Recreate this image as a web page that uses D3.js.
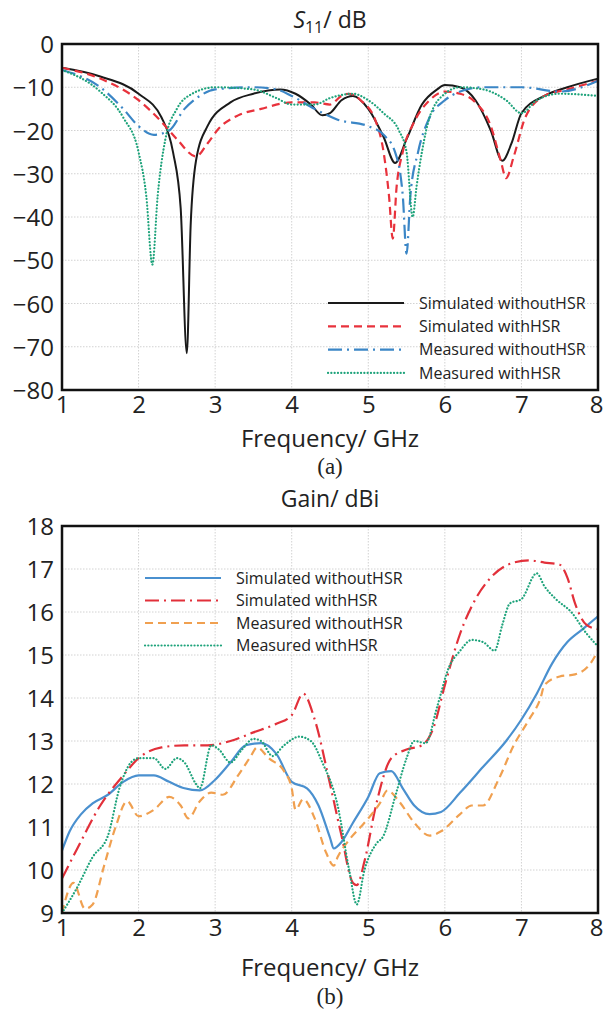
<!DOCTYPE html>
<html>
<head>
<meta charset="utf-8">
<script src="https://cdn.jsdelivr.net/npm/d3@7"></script>
<style>
  body { margin: 0; background: #fff; }
  svg { display: block; }
  text { font-family: "Open Sans", "Noto Sans", sans-serif; fill: #222; }
</style>
</head>
<body>
<div id="chart"></div>
<script>
// ---- data: S11 (dB) vs frequency (GHz)
var s11SimWithout = [[1,-5.5],[1.5,-7.5],[2.0,-11.5],[2.3,-17],[2.45,-25],[2.55,-38],[2.63,-71.5],[2.68,-42],[2.75,-27],[2.9,-19],[3.2,-13.5],[3.5,-11.5],[3.85,-10.5],[4.05,-11.5],[4.25,-14],[4.4,-16.5],[4.5,-16],[4.65,-13],[4.8,-12],[5.0,-15],[5.2,-21.5],[5.35,-27.5],[5.5,-22],[5.7,-14],[5.9,-10.5],[6.0,-9.5],[6.2,-10],[6.4,-13],[6.6,-20],[6.75,-27],[6.87,-23],[7.0,-16],[7.3,-12],[7.6,-10],[8.0,-8]];
var s11SimWith = [[1,-5.5],[1.5,-8],[2.0,-13],[2.3,-18],[2.5,-22],[2.75,-26],[2.9,-23],[3.05,-19.5],[3.3,-16.5],[3.6,-15],[4.0,-13.5],[4.3,-13.5],[4.5,-14],[4.65,-12],[4.75,-11.5],[4.9,-13],[5.1,-18],[5.2,-25],[5.27,-35],[5.32,-45],[5.37,-33],[5.45,-25],[5.6,-18],[5.8,-13],[6.0,-11],[6.2,-11.5],[6.4,-13.5],[6.6,-19],[6.73,-27],[6.8,-31],[6.9,-26],[7.05,-17],[7.3,-12],[7.6,-10.5],[8.0,-8.5]];
var s11MeasWithout = [[1,-6],[1.5,-10],[1.8,-15],[2.0,-19],[2.2,-21],[2.4,-20],[2.6,-15],[2.8,-12],[3.0,-10.5],[3.5,-10],[3.8,-10.5],[4.0,-12],[4.3,-15],[4.6,-17.5],[5.0,-19],[5.2,-21],[5.35,-25],[5.45,-35],[5.5,-48.5],[5.55,-35],[5.65,-25],[5.8,-17],[6.0,-13],[6.2,-11],[6.5,-10],[7.0,-10],[7.5,-11],[8.0,-8.5]];
var s11MeasWith = [[1,-6],[1.5,-11],[1.8,-17],[2.0,-25],[2.1,-35],[2.18,-51],[2.25,-35],[2.35,-22],[2.5,-15],[2.7,-11.5],[3.0,-10],[3.5,-10.5],[3.8,-12.5],[4.0,-14],[4.3,-14],[4.5,-12.5],[4.8,-11.5],[5.0,-13],[5.2,-16],[5.4,-20],[5.5,-25],[5.58,-40],[5.63,-33],[5.7,-25],[5.8,-17],[6.0,-11.5],[6.2,-10],[6.5,-10.5],[6.8,-13],[7.0,-16],[7.2,-13],[7.5,-11.5],[8.0,-12]];

// ---- data: Gain (dBi) vs frequency (GHz)
var gainSimWithout = [[1.0,10.45],[1.1,10.9],[1.25,11.3],[1.4,11.55],[1.6,11.75],[1.8,12.05],[2.0,12.2],[2.2,12.2],[2.4,12.05],[2.6,11.9],[2.8,11.85],[3.0,12.1],[3.2,12.5],[3.4,12.9],[3.6,12.95],[3.8,12.7],[4.0,12.05],[4.2,11.9],[4.35,11.5],[4.5,10.75],[4.55,10.5],[4.65,10.65],[4.8,11.1],[5.0,11.7],[5.15,12.25],[5.3,12.3],[5.45,11.9],[5.6,11.5],[5.8,11.3],[5.95,11.35],[6.2,11.8],[6.5,12.4],[6.8,13.0],[7.0,13.5],[7.2,14.1],[7.4,14.8],[7.6,15.3],[7.8,15.6],[8.0,15.9]];
var gainSimWith = [[1.0,9.8],[1.2,10.5],[1.5,11.5],[1.8,12.2],[2.0,12.6],[2.3,12.85],[2.6,12.9],[2.9,12.9],[3.2,13.0],[3.5,13.2],[3.8,13.4],[4.0,13.6],[4.15,14.1],[4.3,13.5],[4.5,12.0],[4.65,10.8],[4.8,9.7],[4.85,9.65],[4.95,10.2],[5.1,11.5],[5.3,12.6],[5.5,12.8],[5.7,12.9],[5.85,13.3],[6.0,14.3],[6.2,15.5],[6.4,16.3],[6.6,16.8],[6.9,17.15],[7.1,17.2],[7.3,17.15],[7.5,17.1],[7.6,16.8],[7.7,16.2],[7.85,15.7],[8.0,15.6]];
var gainMeasWithout = [[1.0,9.0],[1.15,9.7],[1.3,9.1],[1.4,9.2],[1.55,10.1],[1.7,11.0],[1.85,11.6],[2.0,11.25],[2.2,11.4],[2.4,11.7],[2.55,11.5],[2.65,11.2],[2.8,11.6],[2.95,11.8],[3.1,11.75],[3.3,12.2],[3.45,12.6],[3.55,12.85],[3.7,12.6],[3.9,12.3],[4.0,11.9],[4.05,11.4],[4.15,11.65],[4.3,11.2],[4.45,10.4],[4.55,10.1],[4.6,10.3],[4.75,10.7],[4.9,11.0],[5.0,11.2],[5.15,11.55],[5.25,11.85],[5.4,11.6],[5.6,11.1],[5.8,10.8],[5.95,10.9],[6.2,11.3],[6.35,11.5],[6.5,11.5],[6.7,12.1],[6.9,12.9],[7.1,13.5],[7.25,14.0],[7.3,14.3],[7.5,14.5],[7.7,14.55],[7.9,14.8],[8.0,15.1]];
var gainMeasWith = [[1.0,9.0],[1.2,9.6],[1.4,10.3],[1.6,10.8],[1.75,11.9],[1.9,12.5],[2.0,12.6],[2.2,12.6],[2.35,12.35],[2.5,12.6],[2.6,12.5],[2.75,12.0],[2.8,11.9],[2.95,12.9],[3.05,12.8],[3.2,12.5],[3.35,12.8],[3.5,13.05],[3.6,13.0],[3.75,12.65],[3.9,12.9],[4.1,13.1],[4.25,13.0],[4.4,12.5],[4.6,11.5],[4.75,10.0],[4.85,9.2],[4.95,10.0],[5.1,10.6],[5.2,10.8],[5.35,11.7],[5.5,12.6],[5.6,13.0],[5.75,12.95],[5.9,13.8],[6.05,14.7],[6.2,15.1],[6.35,15.35],[6.5,15.3],[6.65,15.1],[6.75,15.7],[6.85,16.2],[7.0,16.3],[7.2,16.9],[7.3,16.6],[7.45,16.3],[7.65,16.0],[7.85,15.5],[8.0,15.2]];

var freqTicks = [1, 2, 3, 4, 5, 6, 7, 8];
var s11Ticks = [0, -10, -20, -30, -40, -50, -60, -70, -80];
var gainTicks = [9, 10, 11, 12, 13, 14, 15, 16, 17, 18];
var legendNames = ["Simulated without\u0048SR", "Simulated with\u0048SR", "Measured without\u0048SR", "Measured with\u0048SR"];

var svg = d3.select("#chart").append("svg")
    .attr("width", 605)
    .attr("height", 1017);

// draws one framed panel with grid, ticks, curves and legend
function draw_panel(opt){
    var x = d3.scaleLinear().domain([1, 8]).range([opt.left, opt.right]);
    var y = d3.scaleLinear().domain(opt.yDomain).range([opt.bottom, opt.top]);
    var g = svg.append("g");

    // dotted grid
    g.append("g").selectAll("line.vg").data(freqTicks.slice(1, -1)).enter()
      .append("line")
        .attr("x1", function(d){return x(d);}).attr("x2", function(d){return x(d);})
        .attr("y1", opt.top).attr("y2", opt.bottom)
        .attr("stroke", "#d2d2d2").attr("stroke-width", 1)
        .attr("stroke-dasharray", "1.5,1.5");
    g.append("g").selectAll("line.hg").data(opt.yTicks.slice(1, -1)).enter()
      .append("line")
        .attr("x1", opt.left).attr("x2", opt.right)
        .attr("y1", function(d){return y(d);}).attr("y2", function(d){return y(d);})
        .attr("stroke", "#d2d2d2").attr("stroke-width", 1)
        .attr("stroke-dasharray", "1.5,1.5");

    // tick labels through axes, no tick marks
    var xAxis = g.append("g")
        .attr("transform", "translate(0," + opt.bottom + ")")
        .call(d3.axisBottom(x).tickValues(freqTicks).tickFormat(d3.format("d"))
            .tickSize(0).tickPadding(6));
    var yAxis = g.append("g")
        .attr("transform", "translate(" + opt.left + ",0)")
        .call(d3.axisLeft(y).tickValues(opt.yTicks).tickFormat(d3.format("d"))
            .tickSize(0).tickPadding(8));
    [xAxis, yAxis].forEach(function(a){
        a.select(".domain").remove();
        a.selectAll("text")
          .attr("font-family", "'Open Sans', sans-serif")
          .attr("font-size", 24)
          .attr("fill", "#222");
    });
    yAxis.selectAll("text").attr("dy", "0.36em");
    // last x label sits on the page edge
    xAxis.selectAll("text").filter(function(d){return d === 8;}).attr("dx", -2);

    var line = d3.line()
        .x(function(d){return x(d[0]);})
        .y(function(d){return y(d[1]);})
        .curve(d3.curveMonotoneX);

    opt.series.forEach(function(s){
        g.append("path")
          .attr("d", line(s.data))
          .attr("fill", "none")
          .attr("stroke", s.color)
          .attr("stroke-width", s.width)
          .attr("stroke-dasharray", s.dash)
          .attr("stroke-linecap", s.cap || "butt");
    });

    // frame
    g.append("rect")
      .attr("x", opt.left).attr("y", opt.top)
      .attr("width", opt.right - opt.left).attr("height", opt.bottom - opt.top)
      .attr("fill", "none").attr("stroke", "#111").attr("stroke-width", 2.5);

    // legend
    var leg = g.append("g").selectAll("g").data(opt.series).enter().append("g")
        .attr("transform", function(d, i){
            return "translate(" + opt.legX + "," + (opt.legY + i * opt.legStep) + ")";});
    leg.append("line")
        .attr("x1", 0).attr("x2", opt.legLen).attr("y1", 0).attr("y2", 0)
        .attr("stroke", function(d){return d.color;})
        .attr("stroke-width", function(d){return d.width;})
        .attr("stroke-dasharray", function(d){return d.dash;})
        .attr("stroke-linecap", function(d){return d.cap || "butt";});
    leg.append("text")
        .attr("x", opt.legLen + 15).attr("y", 0).attr("dy", "0.35em")
        .attr("font-size", 16)
        .text(function(d, i){return legendNames[i];});
}

draw_panel({
    left: 62, right: 598, top: 44, bottom: 390,
    yDomain: [-80, 0], yTicks: s11Ticks,
    legX: 328, legY: 303, legStep: 23.3, legLen: 76,
    series: [
        {data: s11SimWithout, color: "#1a1a1a", width: 2, dash: null},
        {data: s11SimWith, color: "#e8323c", width: 2.2, dash: "8,5"},
        {data: s11MeasWithout, color: "#3b86c6", width: 2.2, dash: "14,5,2,5"},
        {data: s11MeasWith, color: "#1ea37b", width: 2.2, dash: "0.1,3.2", cap: "round"}
    ]
});

draw_panel({
    left: 62, right: 598, top: 526, bottom: 913,
    yDomain: [9, 18], yTicks: gainTicks,
    legX: 145, legY: 578, legStep: 22.5, legLen: 76,
    series: [
        {data: gainSimWithout, color: "#4a90cf", width: 2.2, dash: null},
        {data: gainSimWith, color: "#e2303a", width: 2.2, dash: "14,5,2,5"},
        {data: gainMeasWithout, color: "#f0a050", width: 2.2, dash: "8,5"},
        {data: gainMeasWith, color: "#1ea37b", width: 2.2, dash: "0.1,3.2", cap: "round"}
    ]
});

// titles and captions
var t1 = svg.append("text").attr("x", 330).attr("y", 28)
    .attr("text-anchor", "middle").attr("font-size", 23);
t1.append("tspan").attr("font-style", "italic").text("S");
t1.append("tspan").attr("font-size", 16).attr("dy", 5).text("11");
t1.append("tspan").attr("dy", -5).text("/ dB");

svg.append("text").attr("x", 330).attr("y", 447)
    .attr("text-anchor", "middle").attr("font-size", 24).text("Frequency/ GHz");
svg.append("text").attr("x", 330).attr("y", 474)
    .attr("text-anchor", "middle").attr("font-size", 23)
    .style("font-family", "'Liberation Serif', 'DejaVu Serif', serif").text("(a)");

svg.append("text").attr("x", 330).attr("y", 507)
    .attr("text-anchor", "middle").attr("font-size", 23).text("Gain/ dBi");
svg.append("text").attr("x", 330).attr("y", 976)
    .attr("text-anchor", "middle").attr("font-size", 24).text("Frequency/ GHz");
svg.append("text").attr("x", 330).attr("y", 1004)
    .attr("text-anchor", "middle").attr("font-size", 23)
    .style("font-family", "'Liberation Serif', 'DejaVu Serif', serif").text("(b)");
</script>
</body>
</html>
